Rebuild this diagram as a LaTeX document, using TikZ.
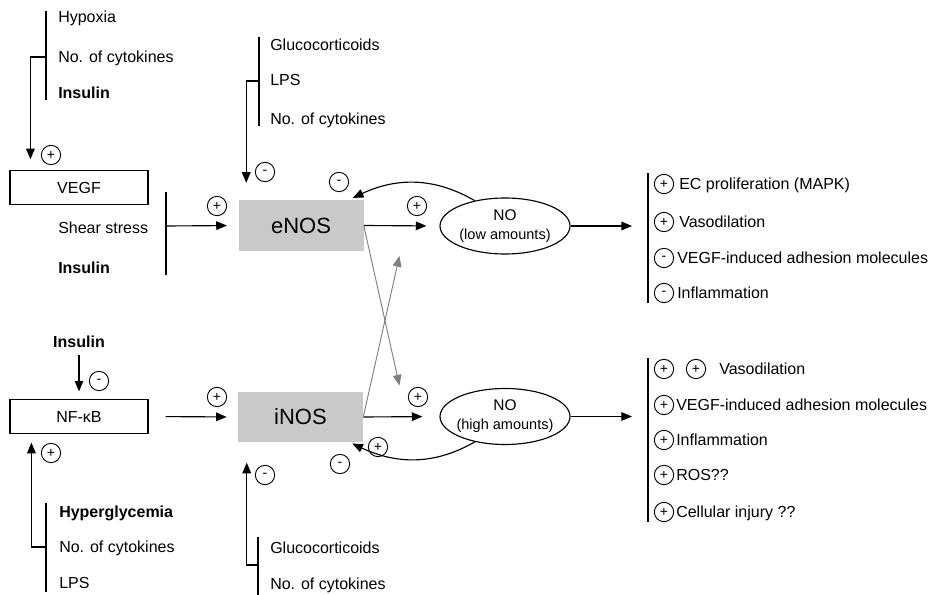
\documentclass[tikz,border=0pt]{standalone}
\usepackage{fontspec}
\setmainfont{Liberation Sans}
\usepackage{tikz}
\usetikzlibrary{arrows.meta,calc,positioning,shapes.geometric}
\definecolor{nosgray}{HTML}{C9C9C9}
\definecolor{crossgray}{HTML}{808080}

\begin{document}
\begin{tikzpicture}[x=0.75pt,y=-0.75pt, every node/.style={font=\fontsize{12}{14}\selectfont},
  lbl/.style={anchor=west,inner sep=0pt,text height=8.6pt,text depth=0pt},
  lblb/.style={lbl,font=\fontsize{12}{14}\selectfont\bfseries},
  box/.style={draw,line width=0.85pt,minimum width=103.5pt,minimum height=25.5pt},
  nos/.style={fill=nosgray,minimum width=93.75pt,minimum height=38pt,font=\fontsize{16.5}{18}\selectfont},
  no/.style={ellipse,draw,line width=0.85pt,minimum width=97.5pt,minimum height=42pt,inner ysep=0pt,inner xsep=-3pt,align=center,font=\fontsize{11.6}{14.25}\selectfont},
  sgn/.style={circle,draw,line width=0.7pt,minimum size=14.5pt,inner sep=0pt,font=\fontsize{10.5}{10.5}\selectfont},
  bar/.style={line width=0.85pt},
  arr/.style={-{Triangle[length=8pt,width=6.5pt]},line width=0.85pt},
  garr/.style={arr,draw=crossgray,line width=0.7pt}]
  \useasboundingbox (0,0) rectangle (935,595);

  \node[box] (vegf) at (79,187.5) {VEGF};
  \node[box] (nfkb) at (79,416.5) {NF-κB};
  \node[nos] (enos) at (301,225.5) {eNOS};
  \node[nos] (inos) at (300.5,417) {iNOS};
  \node[no] (nolow) at (505,226) {NO\\{\fontsize{10.9}{14.25}\selectfont(low amounts)}};
  \node[no] (nohigh) at (505,416.5) {NO\\{\fontsize{10.9}{14.25}\selectfont(high amounts)}};

  \node[lbl] (hyp) at (58,17) {Hypoxia};
  \node[lbl] (cyt1) at (58,57) {No. of cytokines};
  \node[lblb] (ins1) at (58,93) {Insulin};
  \node[lbl] (glu1) at (270,45) {Glucocorticoids};
  \node[lbl] (lps1) at (270,80) {LPS};
  \node[lbl] (cyt2) at (270,119) {No. of cytokines};
  \node[lbl] (shear) at (58,228) {Shear stress};
  \node[lblb] (ins2) at (58,268) {Insulin};
  \node[lblb,anchor=center] (ins3) at (79,342) {Insulin};
  \node[lblb] (hyper) at (59,512) {Hyperglycemia};
  \node[lbl] (cyt3) at (59,547) {No. of cytokines};
  \node[lbl] (lps2) at (59,583) {LPS};
  \node[lbl] (glu2) at (270,548) {Glucocorticoids};
  \node[lbl] (cyt4) at (270,584) {No. of cytokines};

  \draw[bar] (46,11) -- (46,100);
  \draw[bar] (259,37) -- (259,126);
  \draw[bar] (166,192) -- (166,275);
  \draw[bar] (648,173) -- (648,303);
  \draw[bar] (648,358) -- (648,522);
  \draw[bar] (46,503) -- (46,592);
  \draw[bar] (258,537) -- (258,595);

  \coordinate (b1) at (46,57);
  \coordinate (b2) at (259,81);
  \coordinate (b3) at (166,226);
  \coordinate (b5) at (648,226);
  \coordinate (b9) at (648,416.5);
  \coordinate (b12) at (46,547);
  \coordinate (b13) at (258,565);

  \draw[arr,shorten >=8pt] (b1) -| ($(vegf.north west)+(21,0)$);
  \draw[arr,shorten >=12.75pt] (b2) -| ($(enos.north west)+(8,0)$);
  \draw[arr,shorten >=8.5pt] (b3) -- (enos.west);
  \draw[arr,shorten >=9.75pt] (enos.east) -- (nolow.west);
  \draw[arr,shorten >=12pt] (nolow.east) -- (b5);
  \draw[arr] (nolow.140) to[out=150,in=25] ($(enos.north east)+(-11,-2)$);
  \draw[arr] (nohigh.220) to[out=-150,in=-25] ($(inos.south east)+(-11,1)$);
  \draw[arr,shorten >=12.75pt] (inos.east) -- (nohigh.west);
  \draw[arr,shorten >=12pt] (nohigh.east) -- (b9);
  \draw[arr,shorten <=12.75pt,shorten >=8.25pt] (nfkb.east) -- (inos.west);
  \draw[arr,shorten <=5pt,shorten >=5.6pt] (ins3.south) -- (nfkb.north);
  \draw[arr,shorten >=6.4pt] (b12) -| ($(nfkb.south west)+(22,0)$);
  \draw[arr,shorten >=15pt] (b13) -| ($(inos.south west)+(9,0)$);
  \draw[garr] (enos.east) -- ($(nohigh.west)+(-40,-31)$);
  \draw[garr] (inos.east) -- ($(nolow.west)+(-40,30)$);

  \node[sgn] (s1) at (51,155) {+};
  \node[sgn] (s2) at (265,172) {-};
  \node[sgn] (s3) at (217,206) {+};
  \node[sgn] (s4) at (339,182) {-};
  \node[sgn] (s5) at (417,206) {+};
  \node[sgn] (s6) at (99,381) {-};
  \node[sgn] (s7) at (217,397) {+};
  \node[sgn] (s8) at (418,397) {+};
  \node[sgn] (s9) at (378,447) {+};
  \node[sgn] (s10) at (340,464) {-};
  \node[sgn] (s11) at (51,453) {+};
  \node[sgn] (s12) at (265,475) {-};

  \node[sgn] (r1) at (664,184) {+};
  \node[lbl] (t1) at (679,184) {EC proliferation (MAPK)};
  \node[sgn] (r2) at (664,222) {+};
  \node[lbl] (t2) at (679,222) {Vasodilation};
  \node[sgn] (r3) at (664,258) {-};
  \node[lbl] (t3) at (677,258) {VEGF-induced adhesion molecules};
  \node[sgn] (r4) at (664,293) {-};
  \node[lbl] (t4) at (677,293) {Inflammation};

  \node[sgn] (r5) at (664,369) {+};
  \node[sgn] (r5b) at (696,369) {+};
  \node[lbl] (t5) at (719,369) {Vasodilation};
  \node[sgn] (r6) at (664,405) {+};
  \node[lbl] (t6) at (676,405) {VEGF-induced adhesion molecules};
  \node[sgn] (r7) at (664,440) {+};
  \node[lbl] (t7) at (676,440) {Inflammation};
  \node[sgn] (r8) at (664,475) {+};
  \node[lbl] (t8) at (676,475) {ROS??};
  \node[sgn] (r9) at (664,512) {+};
  \node[lbl] (t9) at (676,512) {Cellular injury ??};
\end{tikzpicture}
\end{document}
